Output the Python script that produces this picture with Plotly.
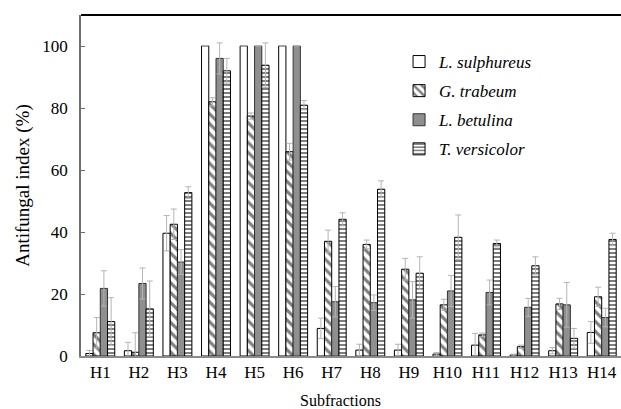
import plotly.graph_objects as go

categories = ["H1", "H2", "H3", "H4", "H5", "H6", "H7", "H8", "H9", "H10", "H11", "H12", "H13", "H14"]

series_names = ["L. sulphureus", "G. trabeum", "L. betulina", "T. versicolor"]

sulphureus = [0.8, 1.7, 39.6, 100, 100, 100, 8.9, 1.9, 1.9, 0.6, 3.5, 0.3, 1.7, 7.6]
sulphureus_err = [1.0, 2.7, 5.7, 0, 0, 0, 3.3, 1.9, 1.9, 0.5, 3.8, 0.3, 1.0, 3.5]

trabeum = [7.5, 1.2, 42.5, 82, 77.4, 65.9, 37, 36, 28, 16.5, 6.8, 3, 16.8, 19.1]
trabeum_err = [4.9, 6.3, 4.9, 1.3, 1.0, 2.7, 3.6, 1.4, 3.5, 1.8, 0.6, 0.5, 1.8, 3.1]

betulina = [21.8, 23.4, 30.3, 96, 100, 100, 17.5, 17.2, 18.1, 21, 20.5, 15.7, 16.5, 12.4]
betulina_err = [5.7, 5.0, 4.0, 5.0, 0, 0, 4.9, 2.5, 5.9, 5.0, 4.0, 2.9, 7.2, 3.0]

versicolor = [11.1, 15.2, 52.7, 92, 93.8, 80.9, 44.1, 53.8, 26.7, 38.3, 36.3, 29.1, 5.7, 37.6]
versicolor_err = [7.7, 9.0, 1.9, 4.0, 7.2, 1.5, 2.1, 2.7, 5.3, 7.2, 1.1, 2.9, 3.2, 2.0]

y_ticks = [0, 20, 40, 60, 80, 100]

FF = "'Liberation Serif', 'Times New Roman', serif"
err_color = "#b4b4b4"

def err(arr):
    return dict(type="data", array=arr, symmetric=True, color=err_color, thickness=1, width=3)

fig = go.Figure()

fig.add_trace(go.Bar(
    name=series_names[0], x=categories, y=sulphureus, error_y=err(sulphureus_err),
    marker=dict(color="white", line=dict(color="black", width=1)),
    legendgroup="a"))

fig.add_trace(go.Bar(
    name=series_names[1], x=categories, y=trabeum, error_y=err(trabeum_err),
    marker=dict(color="white", line=dict(color="black", width=1),
                pattern=dict(shape="\\", fgcolor="black", bgcolor="white", size=7, solidity=0.45)),
    legendgroup="b"))

fig.add_trace(go.Bar(
    name=series_names[2], x=categories, y=betulina, error_y=err(betulina_err),
    marker=dict(color="#8f8f8f", line=dict(color="#333333", width=1)),
    legendgroup="c"))

fig.add_trace(go.Bar(
    name=series_names[3], x=categories, y=versicolor, error_y=err(versicolor_err),
    marker=dict(color="white", line=dict(color="black", width=1),
                pattern=dict(shape="-", fgcolor="black", bgcolor="white", size=4, solidity=0.5)),
    legendgroup="d"))

fig.update_layout(
    width=621, height=409,
    margin=dict(l=81, r=0, t=15, b=53),
    paper_bgcolor="white", plot_bgcolor="white",
    barmode="group", bargap=0.25, bargroupgap=0,
    font=dict(family=FF, size=17, color="black"),
    showlegend=True,
    legend=dict(
        x=0.589, y=0.915, xanchor="left", yanchor="top",
        font=dict(family=FF, size=17, color="black", style="italic"),
        bgcolor="rgba(0,0,0,0)", tracegroupgap=4,
    ),
    xaxis=dict(
        type="category", range=[-0.5, 13.5], automargin=False,
        showline=True, linecolor="#8a8a8a", linewidth=1.5,
        ticks="", showgrid=False, tickfont=dict(family=FF, size=17, color="black"),
    ),
    yaxis=dict(
        range=[0, 110], tickvals=y_ticks, automargin=False,
        showline=True, linecolor="#6e6e6e", linewidth=1.5,
        ticks="inside", ticklen=4, tickcolor="#6e6e6e",
        showgrid=False, zeroline=False, tickfont=dict(family=FF, size=17, color="black"),
        ticklabelstandoff=8,
        title=dict(text="Antifungal index (%)", font=dict(family=FF, size=19, color="black"), standoff=8),
    ),
    shapes=[dict(type="line", xref="paper", yref="paper", x0=0, x1=1, y0=1, y1=1,
                 layer="above", line=dict(color="black", width=2))],
    annotations=[dict(text="Subfractions", xref="paper", yref="paper", x=0.481, y=-0.13,
                      xanchor="center", yanchor="middle", showarrow=False,
                      font=dict(family=FF, size=16, color="black"))],
)

fig.write_html("out.html", config={"displayModeBar": False},
               post_script="document.body.style.margin='0';document.body.style.padding='0';")
